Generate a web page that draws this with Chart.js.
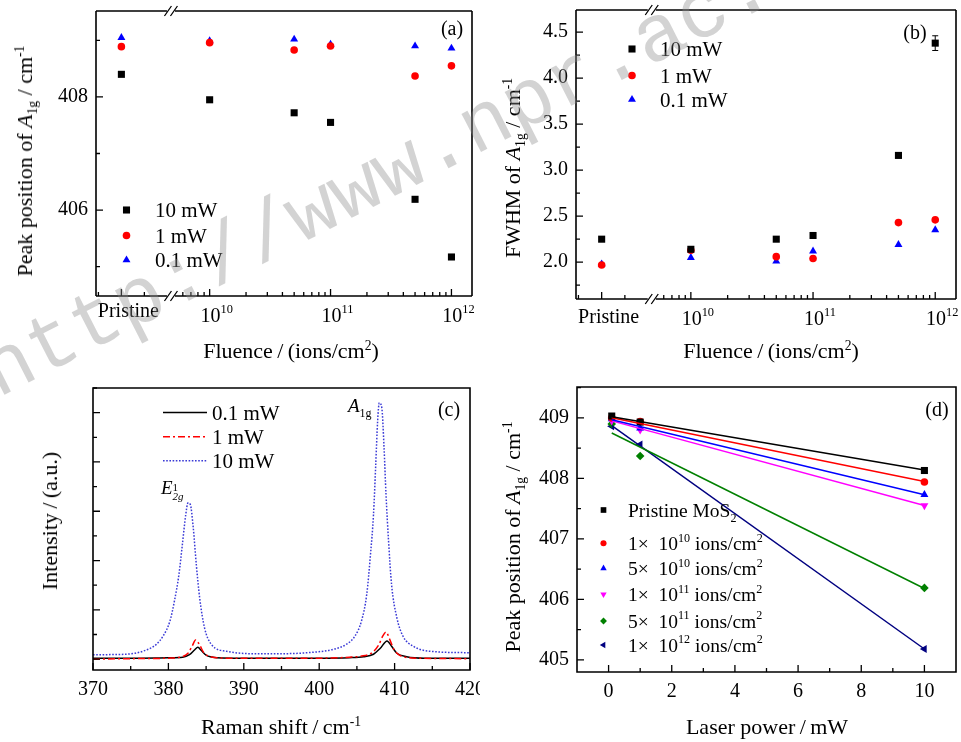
<!DOCTYPE html>
<html>
<head>
<meta charset="utf-8">
<title>A1g Raman mode of MoS2</title>
<script src="https://cdn.jsdelivr.net/npm/chart.js@4.4.1/dist/chart.umd.min.js"></script>
<style>
  html, body { margin: 0; padding: 0; background: #fff; }
  body { width: 961px; height: 742px; position: relative; overflow: hidden;
         font-family: "Liberation Serif", "Times New Roman", serif; color: #000; }
  .panel { position: absolute; }
  canvas { display: block; }
  .lbl { position: absolute; white-space: nowrap; line-height: 1; font-size: 21px;
         transform: translate(-50%, -50%); }
  .lbl.rot { transform: translate(-50%, -50%) rotate(-90deg); }
  .lbl sub, .lbl sup { font-size: 62%; line-height: 0; }
  .note { position: absolute; white-space: nowrap; line-height: 1; font-size: 19px; }
  .stack { display: inline-block; vertical-align: -6px; line-height: 9px; font-size: 11px; }
  .wm { position: absolute; white-space: nowrap; line-height: 1; font-size: 81px;
        font-family: "Liberation Mono", "Courier New", monospace;
        color: rgba(140, 140, 140, 0.38); transform-origin: 0 62px; pointer-events: none; }
</style>
</head>
<body>
<div class="panel" style="left:0;top:0"><canvas id="chartA" width="480" height="370"></canvas></div>
<div class="panel" style="left:480px;top:0"><canvas id="chartB" width="481" height="370"></canvas></div>
<div class="panel" style="left:0;top:370px"><canvas id="chartC" width="480" height="372"></canvas></div>
<div class="panel" style="left:480px;top:370px"><canvas id="chartD" width="481" height="372"></canvas></div>

<!-- axis titles -->
<div class="lbl rot" style="left:25px;top:161px;font-size:22px">Peak position of <i>A</i><sub>1g</sub> / cm<sup>-1</sup></div>
<div class="lbl" style="left:291px;top:351px;font-size:22px">Fluence&thinsp;/&thinsp;(ions/cm<sup>2</sup>)</div>
<div class="lbl rot" style="left:513px;top:168px;font-size:22px">FWHM of <i>A</i><sub>1g</sub> / cm<sup>-1</sup></div>
<div class="lbl" style="left:771px;top:351px;font-size:22px">Fluence&thinsp;/&thinsp;(ions/cm<sup>2</sup>)</div>
<div class="lbl rot" style="left:50px;top:521px;font-size:22px">Intensity&thinsp;/&thinsp;(a.u.)</div>
<div class="lbl" style="left:281px;top:727px;font-size:22px">Raman shift&thinsp;/&thinsp;cm<sup>-1</sup></div>
<div class="lbl rot" style="left:513px;top:537px;font-size:22px">Peak position of <i>A</i><sub>1g</sub> / cm<sup>-1</sup></div>
<div class="lbl" style="left:767px;top:727px;font-size:22px">Laser power&thinsp;/&thinsp;mW</div>

<!-- panel tags and peak names -->
<div class="lbl" style="left:452px;top:28px;font-size:20px">(a)</div>
<div class="lbl" style="left:915px;top:32px;font-size:20px">(b)</div>
<div class="lbl" style="left:449px;top:409px;font-size:20px">(c)</div>
<div class="lbl" style="left:937px;top:409px;font-size:20px">(d)</div>
<div class="note" style="left:161px;top:478px"><i>E</i><span class="stack">1<br><i>2g</i></span></div>
<div class="note" style="left:348px;top:396px"><i>A</i><sub style="font-size:12px">1g</sub></div>

<div class="wm" style="left:-2px;top:336px;transform:rotate(-27deg)">http://www.npr.ac.cn</div>

<script>
const FONT = '"Liberation Serif", "Times New Roman", serif';

// ---------- (a) and (b): fluence series ----------
const fluence = [0, 1e10, 5e10, 1e11, 5e11, 1e12];   // 0 = pristine
const peakA_10mW = [408.40, 407.95, 407.72, 407.55, 406.19, 405.17];
const peakA_1mW = [408.89, 408.96, 408.83, 408.90, 408.37, 408.55];
const peakA_01mW = [409.05, 408.99, 409.02, 408.93, 408.90, 408.86];

const fwhm_10mW = [2.25, 2.14, 2.25, 2.29, 3.16, 4.38];
const fwhm_10mW_err = [0, 0, 0, 0, 0, 0.08];
const fwhm_1mW = [1.97, 2.13, 2.06, 2.04, 2.43, 2.46];
const fwhm_01mW = [1.98, 2.05, 2.01, 2.12, 2.19, 2.35];

const fluenceTickValues = [0, 1e10, 1e11, 1e12];
const fluenceTickLabels = ['Pristine', '10^{10}', '10^{11}', '10^{12}'];
const peakTicksA = [406, 408];
const fwhmTicks = [2.0, 2.5, 3.0, 3.5, 4.0, 4.5];

// ---------- (c): Raman spectra ----------
const shift01 = [370, 375, 380, 381.9, 382.8, 383.5, 383.9, 384.4, 385.0, 386.4, 390, 395, 400, 404, 405.9, 407.2, 408.1, 409.0, 409.6, 410.3, 411.6, 414, 420];
const int01 = [0.02, 0.02, 0.03, 0.04, 0.09, 0.19, 0.24, 0.17, 0.08, 0.03, 0.02, 0.02, 0.02, 0.03, 0.05, 0.10, 0.22, 0.37, 0.26, 0.12, 0.05, 0.02, 0.02];
const shift1 = [370, 375, 380, 381.5, 382.6, 383.2, 383.6, 384.1, 384.7, 385.6, 388, 395, 400, 404, 405.5, 407.0, 407.9, 408.4, 408.86, 409.3, 409.9, 410.8, 413, 420];
const int1 = [0.0, 0.01, 0.02, 0.04, 0.12, 0.28, 0.39, 0.30, 0.13, 0.05, 0.02, 0.02, 0.02, 0.04, 0.06, 0.13, 0.29, 0.46, 0.55, 0.42, 0.20, 0.07, 0.02, 0.01];
const shift10 = [370, 374.4, 376.6, 378.4, 379.3, 380.2, 380.8, 381.4, 381.85, 382.3, 382.6, 382.9, 383.3, 383.7, 384.15, 384.8, 385.7, 387.7, 392.1, 394.8, 399.2, 401.9, 403.6, 404.75, 405.6, 406.3, 406.8, 407.2, 407.5, 407.75, 407.97, 408.3, 408.6, 408.86, 409.2, 409.6, 410.3, 411.1, 412.5, 414.7, 420];
const int10 = [0.09, 0.10, 0.16, 0.30, 0.47, 0.77, 1.18, 1.72, 2.32, 2.93, 3.17, 3.14, 2.66, 1.92, 1.24, 0.63, 0.30, 0.16, 0.11, 0.11, 0.14, 0.20, 0.30, 0.47, 0.77, 1.31, 2.12, 2.93, 3.95, 4.83, 5.20, 5.10, 4.29, 3.34, 2.39, 1.51, 0.84, 0.47, 0.26, 0.16, 0.13];
const shiftTicks = [370, 380, 390, 400, 410, 420];
const intensityTicks = [0, 1, 2, 3, 4, 5];

// ---------- (d): peak position vs laser power ----------
const laserPower = [0.1, 1, 10];
const peakPristine = [409.03, 408.93, 408.13];
const peak1e10 = [409.00, 408.94, 407.94];
const peak5e10 = [408.98, 408.83, 407.73];
const peak1e11 = [408.95, 408.80, 407.55];
const peak5e11 = [408.90, 408.37, 406.19];
const peak1e12 = [408.86, 408.56, 405.18];
// fitted lines, read at 0.1 mW and 10 mW
const fitAt01 = [409.02, 409.00, 408.97, 408.95, 408.75, 408.87];
const fitAt10 = [408.14, 407.95, 407.73, 407.55, 406.18, 405.18];
const powerTicks = [0, 2, 4, 6, 8, 10];
const peakTicksD = [405, 406, 407, 408, 409];

// broken fluence axis: pristine sits left of the break, the rest is log10
const PRISTINE_X = 9.27;
const BREAK_X = 9.68;
const toFluenceAxis = f => f === 0 ? PRISTINE_X : Math.log10(f);

function fluenceMinor() {
  const out = [PRISTINE_X - 0.19, PRISTINE_X + 0.19];
  for (const d of [9, 10, 11]) {
    for (let k = 2; k <= 9; k++) {
      const v = Math.log10(k * Math.pow(10, d));
      if (v > BREAK_X + 0.08 && v < 12.17) out.push(v);
    }
  }
  return out;
}
function stepTicks(a, b, s) {
  const out = [];
  for (let v = a; v <= b + 1e-9; v += s) out.push(+v.toFixed(4));
  return out;
}

// --- small rich text helper: ^{sup}, _{sub}, *italic* ---
function parseRich(str) {
  const out = [];
  const re = /\^\{([^}]*)\}|_\{([^}]*)\}|\*([^*]*)\*|([^^_*]+)/g;
  let m;
  while ((m = re.exec(str))) {
    if (m[1] !== undefined) out.push({ t: m[1], k: 'sup' });
    else if (m[2] !== undefined) out.push({ t: m[2], k: 'sub' });
    else if (m[3] !== undefined) out.push({ t: m[3], k: 'it' });
    else out.push({ t: m[4], k: '' });
  }
  return out;
}
function richFont(k, size) {
  const s = (k === 'sup' || k === 'sub') ? size * 0.62 : size;
  return (k === 'it' ? 'italic ' : '') + s.toFixed(1) + 'px ' + FONT;
}
function drawRich(ctx, str, x, y, size, align) {
  const segs = parseRich(str);
  let w = 0;
  segs.forEach(s => { ctx.font = richFont(s.k, size); s.w = ctx.measureText(s.t).width; w += s.w; });
  let cx = align === 'center' ? x - w / 2 : x;
  ctx.save();
  ctx.fillStyle = '#000';
  ctx.textAlign = 'left';
  ctx.textBaseline = 'alphabetic';
  segs.forEach(s => {
    ctx.font = richFont(s.k, size);
    const dy = s.k === 'sup' ? -size * 0.42 : s.k === 'sub' ? size * 0.28 : 0;
    ctx.fillText(s.t, cx, y + dy);
    cx += s.w;
  });
  ctx.restore();
}

// frame with inward ticks, optional axis break and custom x labels
const framePlugin = {
  id: 'frame',
  afterDatasetsDraw(chart, args, o) {
    const { ctx, chartArea: a } = chart;
    const x = chart.scales.x, y = chart.scales.y;
    ctx.save();
    ctx.strokeStyle = '#000';
    ctx.lineWidth = 1.6;
    ctx.lineCap = 'butt';
    ctx.beginPath();
    if (o.breakAt !== undefined) {
      const bx = x.getPixelForValue(o.breakAt);
      for (const ey of [a.top, a.bottom]) {
        ctx.moveTo(a.left, ey); ctx.lineTo(bx - 4, ey);
        ctx.moveTo(bx + 4, ey); ctx.lineTo(a.right, ey);
      }
      ctx.moveTo(a.left, a.top); ctx.lineTo(a.left, a.bottom);
      ctx.moveTo(a.right, a.top); ctx.lineTo(a.right, a.bottom);
      ctx.stroke();
      ctx.lineWidth = 1.3;
      ctx.beginPath();
      for (const ey of [a.top, a.bottom]) {
        for (const off of [-3, 3]) {
          ctx.moveTo(bx + off - 3.5, ey + 5);
          ctx.lineTo(bx + off + 3.5, ey - 5);
        }
      }
      ctx.stroke();
    } else {
      ctx.rect(a.left, a.top, a.right - a.left, a.bottom - a.top);
      ctx.stroke();
    }
    ctx.lineWidth = 1.3;
    ctx.beginPath();
    const inX = v => v >= x.min && v <= x.max;
    const inY = v => v >= y.min && v <= y.max;
    (o.xMajor || []).filter(inX).forEach(v => { const p = x.getPixelForValue(v); ctx.moveTo(p, a.bottom); ctx.lineTo(p, a.bottom - 7); });
    (o.xMinor || []).filter(inX).forEach(v => { const p = x.getPixelForValue(v); ctx.moveTo(p, a.bottom); ctx.lineTo(p, a.bottom - 4); });
    (o.yMajor || []).filter(inY).forEach(v => { const p = y.getPixelForValue(v); ctx.moveTo(a.left, p); ctx.lineTo(a.left + 7, p); });
    (o.yMinor || []).filter(inY).forEach(v => { const p = y.getPixelForValue(v); ctx.moveTo(a.left, p); ctx.lineTo(a.left + 4, p); });
    ctx.stroke();
    ctx.restore();
    (o.xLabels || []).forEach(l => {
      drawRich(chart.ctx, l.text, x.getPixelForValue(l.value) + 7, a.bottom + l.dy, 20, 'center');
    });
  }
};

// vertical error bars for datasets carrying an `errors` array
const errorBarPlugin = {
  id: 'errorBars',
  afterDatasetsDraw(chart) {
    const ctx = chart.ctx, y = chart.scales.y;
    chart.data.datasets.forEach((ds, i) => {
      if (!ds.errors) return;
      const meta = chart.getDatasetMeta(i);
      meta.data.forEach((pt, j) => {
        const e = ds.errors[j];
        if (!e) return;
        const v = ds.data[j].y;
        const y0 = y.getPixelForValue(v - e), y1 = y.getPixelForValue(v + e);
        ctx.save();
        ctx.strokeStyle = ds.backgroundColor;
        ctx.lineWidth = 1;
        ctx.beginPath();
        ctx.moveTo(pt.x, y0); ctx.lineTo(pt.x, y1);
        ctx.moveTo(pt.x - 3, y0); ctx.lineTo(pt.x + 3, y0);
        ctx.moveTo(pt.x - 3, y1); ctx.lineTo(pt.x + 3, y1);
        ctx.stroke();
        ctx.restore();
      });
    });
  }
};

// legend drawn at a fixed spot inside the plot, supports sub/superscripts
const richLegendPlugin = {
  id: 'richLegend',
  afterDraw(chart, args, o) {
    if (!o.items) return;
    const ctx = chart.ctx;
    o.items.forEach((it, i) => {
      const ds = chart.data.datasets[it.ds];
      const cy = o.rows[i];
      ctx.save();
      if (o.lines) {
        ctx.strokeStyle = ds.borderColor;
        ctx.lineWidth = ds.borderWidth;
        ctx.setLineDash(ds.borderDash || []);
        ctx.beginPath();
        ctx.moveTo(o.lineX0, cy); ctx.lineTo(o.lineX1, cy);
        ctx.stroke();
      } else {
        ctx.fillStyle = ds.backgroundColor;
        Chart.helpers.drawPoint(ctx, {
          pointStyle: ds.pointStyle,
          radius: ds.pointRadius * (o.markerScale || 1),
          rotation: ds.pointRotation || 0,
          borderWidth: 0
        }, o.markerX, cy);
      }
      ctx.restore();
      drawRich(ctx, it.label, o.textX, cy + o.font * 0.34, o.font, 'left');
    });
  }
};

Chart.register(framePlugin, errorBarPlugin, richLegendPlugin);

function axis(min, max, fit, extra) {
  return Object.assign({
    type: 'linear', min, max,
    grid: { display: false, drawTicks: false },
    border: { display: false },
    ticks: { color: '#000', font: { family: FONT, size: 20 }, padding: 8 },
    afterFit: s => {
      if (fit.width !== undefined) s.width = fit.width;
      if (fit.height !== undefined) s.height = fit.height;
      s.paddingLeft = s.paddingRight = s.paddingTop = s.paddingBottom = 0;
    }
  }, extra);
}
const fixedTicks = vals => s => { s.ticks = vals.map(v => ({ value: v })); };

function pts(xs, ys) { return xs.map((x, i) => ({ x, y: ys[i] })); }

function marker(label, data, color, style, radius, rotation) {
  return {
    label, data, backgroundColor: color, borderColor: color, borderWidth: 0,
    pointStyle: style, pointRadius: radius, pointHoverRadius: radius,
    pointRotation: rotation || 0, showLine: false
  };
}

const baseOptions = (padding) => ({
  responsive: false,
  animation: false,
  events: [],
  layout: { padding },
  plugins: { legend: { display: false }, tooltip: { enabled: false } }
});

// ---------- (a) ----------
const fx = fluence.map(toFluenceAxis);
const fluenceXLabels = fluenceTickValues.map((v, i) => ({
  value: toFluenceAxis(v), text: fluenceTickLabels[i], dy: i === 0 ? 21 : 25.5
}));

new Chart(document.getElementById('chartA'), {
  type: 'scatter',
  data: {
    datasets: [
      marker('10 mW', pts(fx, peakA_10mW), '#000000', 'rect', 5),
      marker('1 mW', pts(fx, peakA_1mW), '#ff0000', 'circle', 3.8),
      marker('0.1 mW', pts(fx, peakA_01mW), '#0000ff', 'triangle', 4.6)
    ]
  },
  options: Object.assign(baseOptions({ left: 0, top: 11, right: 8, bottom: 0 }), {
    scales: {
      x: axis(9.06, 12.17, { height: 74 }, { ticks: { display: false } }),
      y: axis(404.48, 409.52, { width: 96 }, { afterBuildTicks: fixedTicks(peakTicksA) })
    },
    plugins: {
      legend: { display: false }, tooltip: { enabled: false },
      frame: {
        breakAt: BREAK_X,
        xMajor: fluenceTickValues.map(toFluenceAxis), xMinor: fluenceMinor(),
        yMajor: peakTicksA, yMinor: [405, 407, 409],
        xLabels: fluenceXLabels
      },
      richLegend: {
        rows: [210, 235.5, 260], markerX: 126.5, textX: 155, font: 21,
        items: [{ ds: 0, label: '10 mW' }, { ds: 1, label: '1 mW' }, { ds: 2, label: '0.1 mW' }]
      }
    }
  })
});

// ---------- (b) ----------
const fwhmBlack = marker('10 mW', pts(fx, fwhm_10mW), '#000000', 'rect', 5);
fwhmBlack.errors = fwhm_10mW_err;
new Chart(document.getElementById('chartB'), {
  type: 'scatter',
  data: {
    datasets: [
      fwhmBlack,
      marker('1 mW', pts(fx, fwhm_1mW), '#ff0000', 'circle', 3.8),
      marker('0.1 mW', pts(fx, fwhm_01mW), '#0000ff', 'triangle', 4.6)
    ]
  },
  options: Object.assign(baseOptions({ left: 0, top: 10, right: 3, bottom: 0 }), {
    scales: {
      x: axis(9.06, 12.17, { height: 71 }, { ticks: { display: false } }),
      y: axis(1.6, 4.74, { width: 96 }, {
        afterBuildTicks: fixedTicks(fwhmTicks),
        ticks: { color: '#000', font: { family: FONT, size: 20 }, padding: 8, callback: v => v.toFixed(1) }
      })
    },
    plugins: {
      legend: { display: false }, tooltip: { enabled: false },
      frame: {
        breakAt: BREAK_X,
        xMajor: fluenceTickValues.map(toFluenceAxis), xMinor: fluenceMinor(),
        yMajor: fwhmTicks, yMinor: stepTicks(1.75, 4.75, 0.5),
        xLabels: fluenceXLabels.map(l => Object.assign({}, l, { dy: l.text === 'Pristine' ? 24 : 25.5 }))
      },
      richLegend: {
        rows: [49, 75.5, 99.5], markerX: 152, textX: 180, font: 21,
        items: [{ ds: 0, label: '10 mW' }, { ds: 1, label: '1 mW' }, { ds: 2, label: '0.1 mW' }]
      }
    }
  })
});

// ---------- (c) ----------
function spectrum(label, xs, ys, color, dash) {
  return {
    label, data: pts(xs, ys), borderColor: color, backgroundColor: color,
    borderWidth: 1.5, borderDash: dash, pointRadius: 0, fill: false,
    cubicInterpolationMode: 'monotone'
  };
}
new Chart(document.getElementById('chartC'), {
  type: 'line',
  data: {
    datasets: [
      spectrum('10 mW', shift10, int10, '#3a3ad6', [1.6, 1.6]),
      spectrum('1 mW', shift1, int1, '#ff0000', [7, 3, 2, 3]),
      spectrum('0.1 mW', shift01, int01, '#000000', [])
    ]
  },
  options: Object.assign(baseOptions({ left: 0, top: 18, right: 10, bottom: 0 }), {
    scales: {
      x: axis(370, 420, { height: 72 }, { afterBuildTicks: fixedTicks(shiftTicks) }),
      y: axis(-0.22, 5.5, { width: 93 }, { ticks: { display: false } })
    },
    plugins: {
      legend: { display: false }, tooltip: { enabled: false },
      frame: {
        xMajor: shiftTicks, xMinor: stepTicks(375, 415, 10),
        yMajor: intensityTicks, yMinor: stepTicks(0.5, 5.5, 1)
      },
      richLegend: {
        lines: true, rows: [42.5, 66.7, 90.7], lineX0: 163, lineX1: 207, textX: 212, font: 21,
        items: [{ ds: 2, label: '0.1 mW' }, { ds: 1, label: '1 mW' }, { ds: 0, label: '10 mW' }]
      }
    }
  })
});

// ---------- (d) ----------
const seriesD = [
  { label: 'Pristine MoS_{2}', y: peakPristine, color: '#000000', style: 'rect', r: 5, rot: 0 },
  { label: '1×  10^{10} ions/cm^{2}', y: peak1e10, color: '#ff0000', style: 'circle', r: 3.8, rot: 0 },
  { label: '5×  10^{10} ions/cm^{2}', y: peak5e10, color: '#0000ff', style: 'triangle', r: 4.6, rot: 0 },
  { label: '1×  10^{11} ions/cm^{2}', y: peak1e11, color: '#ff00ff', style: 'triangle', r: 4.6, rot: 180 },
  { label: '5×  10^{11} ions/cm^{2}', y: peak5e11, color: '#008000', style: 'rectRot', r: 4.3, rot: 0 },
  { label: '1×  10^{12} ions/cm^{2}', y: peak1e12, color: '#000080', style: 'triangle', r: 4.6, rot: -90 }
];
const fitLines = seriesD.map((s, i) => ({
  label: s.label + ' fit', type: 'line',
  data: [{ x: laserPower[0], y: fitAt01[i] }, { x: laserPower[laserPower.length - 1], y: fitAt10[i] }],
  borderColor: s.color, borderWidth: 1.5, pointRadius: 0, fill: false
}));
const pointSets = seriesD.map(s => marker(s.label, pts(laserPower, s.y), s.color, s.style, s.r, s.rot));

new Chart(document.getElementById('chartD'), {
  type: 'scatter',
  data: { datasets: fitLines.concat(pointSets) },
  options: Object.assign(baseOptions({ left: 0, top: 17, right: 2, bottom: 0 }), {
    scales: {
      x: axis(-1, 11, { height: 70 }, { afterBuildTicks: fixedTicks(powerTicks) }),
      y: axis(404.8, 409.51, { width: 97 }, { afterBuildTicks: fixedTicks(peakTicksD) })
    },
    plugins: {
      legend: { display: false }, tooltip: { enabled: false },
      frame: {
        xMajor: powerTicks, xMinor: stepTicks(1, 9, 2),
        yMajor: peakTicksD, yMinor: stepTicks(405.5, 409.5, 1)
      },
      richLegend: {
        rows: [140, 173.3, 198.3, 224.3, 251, 275], markerX: 123.5, textX: 148, font: 19.5, markerScale: 0.8,
        items: seriesD.map((s, i) => ({ ds: fitLines.length + i, label: s.label }))
      }
    }
  })
});
</script>
</body>
</html>
